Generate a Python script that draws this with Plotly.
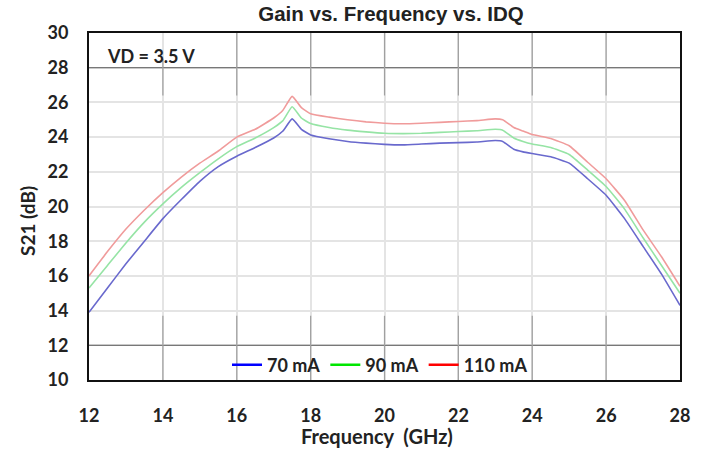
import plotly.graph_objects as go

freq = [12, 12.5, 13, 13.5, 14, 14.5, 15, 15.5, 16, 16.5, 17, 17.25, 17.5, 17.75,
        18, 18.5, 19, 19.5, 20, 20.5, 21, 21.5, 22, 22.5, 23, 23.2, 23.5, 23.75,
        24, 24.5, 25, 25.5, 26, 26.5, 27, 27.5, 28]

s21_70mA = [13.9, 15.3, 16.7, 18.0, 19.3, 20.4, 21.45, 22.3, 22.9, 23.4, 23.95, 24.35, 25.05, 24.45,
            24.12, 23.9, 23.75, 23.65, 23.58, 23.55, 23.6, 23.65, 23.68, 23.72, 23.8, 23.75, 23.3, 23.15,
            23.05, 22.87, 22.5, 21.6, 20.65, 19.3, 17.7, 16.1, 14.3]

s21_90mA = [15.3, 16.6, 17.9, 19.1, 20.15, 21.1, 21.95, 22.75, 23.45, 23.95, 24.55, 24.95, 25.75, 25.1,
            24.78, 24.55, 24.4, 24.3, 24.22, 24.2, 24.22, 24.27, 24.32, 24.37, 24.45, 24.4, 23.95, 23.75,
            23.6, 23.4, 23.0, 22.1, 21.15, 19.85, 18.2, 16.6, 15.0]

s21_110mA = [16.0, 17.4, 18.7, 19.8, 20.8, 21.7, 22.5, 23.2, 24.0, 24.45, 25.1, 25.55, 26.35, 25.7,
             25.35, 25.15, 25.0, 24.88, 24.8, 24.77, 24.8, 24.85, 24.9, 24.95, 25.05, 25.0, 24.55, 24.35,
             24.15, 23.92, 23.5, 22.55, 21.6, 20.35, 18.65, 17.1, 15.4]

series_names = ["70 mA", "90 mA", "110 mA"]
line_colors = ["rgb(105,105,205)", "rgb(150,228,165)", "rgb(240,155,155)"]
legend_colors = ["rgb(0,0,255)", "rgb(0,230,0)", "rgb(255,0,0)"]

x_ticks = [12, 14, 16, 18, 20, 22, 24, 26, 28]
y_ticks = [10, 12, 14, 16, 18, 20, 22, 24, 26, 28, 30]

FONT = "Lato"

fig = go.Figure()
for ys, col in zip([s21_70mA, s21_90mA, s21_110mA], line_colors):
    fig.add_trace(go.Scatter(x=freq, y=ys, mode="lines", line=dict(color=col, width=1.6, shape="spline", smoothing=0.4),
                             showlegend=False, hoverinfo="skip"))
for name, col in zip(series_names, legend_colors):
    fig.add_trace(go.Scatter(x=[None], y=[None], mode="lines", name=name, line=dict(color=col, width=2.5)))

shapes = []
hline = "rgb(120,120,120)"
vseg = "rgb(160,160,160)"
for yv in [28, 12]:
    shapes.append(dict(type="line", xref="x", yref="y", x0=12, x1=28, y0=yv, y1=yv, line=dict(color=hline, width=1.3), layer="between"))
for xv in [16, 18, 20, 22, 24, 26]:
    shapes.append(dict(type="line", xref="x", yref="y", x0=xv, x1=xv, y0=26.4, y1=30, line=dict(color=vseg, width=1.2), layer="between"))
shapes.append(dict(type="line", xref="x", yref="y", x0=14, x1=14, y0=26.4, y1=28.5, line=dict(color=vseg, width=1.2), layer="between"))
for xv in [14, 16, 18, 20, 22, 24, 26]:
    shapes.append(dict(type="line", xref="x", yref="y", x0=xv, x1=xv, y0=10, y1=13.7, line=dict(color=vseg, width=1.2), layer="between"))

fig.update_layout(
    width=701, height=450,
    margin=dict(l=89, r=21, t=33, b=70),
    paper_bgcolor="white", plot_bgcolor="white",
    title=dict(text="Gain vs. Frequency vs. IDQ", x=391/701, xanchor="center",
               y=1 - 14/450, yanchor="middle",
               font=dict(family="Liberation Sans", size=20.5, color="#222", weight="bold")),
    shapes=shapes,
    legend=dict(orientation="h", x=(380-89)/591, xanchor="center", y=(380-365)/347, yanchor="middle",
                bgcolor="rgba(0,0,0,0)", font=dict(family=FONT, size=18, color="#222", weight="bold"),
                itemwidth=30, tracegroupgap=0),
    annotations=[
        dict(text="VD = 3.5 V", xref="paper", yref="paper", x=(105-89)/591, y=(380-56)/347,
             xanchor="left", yanchor="middle", showarrow=False, font=dict(family=FONT, size=18, color="#222", weight="bold")),
        dict(text="S21 (dB)", xref="paper", yref="paper", x=-(89-28)/591, y=(380-221)/347,
             xanchor="center", yanchor="middle", textangle=-90, showarrow=False,
             font=dict(family=FONT, size=19, color="#222", weight="bold")),
        dict(text="Frequency  (GHz)", xref="paper", yref="paper", x=(377-89)/591, y=-(436-380)/347,
             xanchor="center", yanchor="middle", showarrow=False, font=dict(family=FONT, size=20, color="#222", weight="bold")),
    ],
)

fig.update_xaxes(range=[12, 28], tickvals=x_ticks, ticktext=[str(v) for v in x_ticks],
                 showgrid=True, gridcolor="#e4e4e4", gridwidth=2,
                 showline=True, linecolor="#111", linewidth=2, mirror=True,
                 ticks="", ticklabelstandoff=18, zeroline=False,
                 tickfont=dict(family=FONT, size=18, color="#222", weight="bold"))
fig.update_yaxes(range=[10, 30], tickvals=y_ticks, ticktext=[str(v) for v in y_ticks],
                 showgrid=True, gridcolor="#e4e4e4", gridwidth=2,
                 showline=True, linecolor="#111", linewidth=2, mirror=True,
                 ticks="", ticklabelstandoff=15, zeroline=False,
                 tickfont=dict(family=FONT, size=18, color="#222", weight="bold"))

fig.write_html("out.html")
